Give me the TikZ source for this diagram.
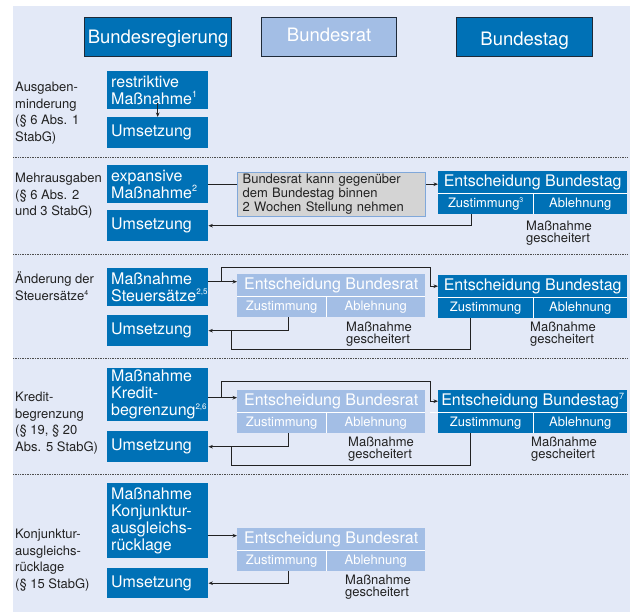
\documentclass[tikz,border=0pt]{standalone}
\usepackage{fontspec}
\setmainfont{TeX Gyre Heros}
\usetikzlibrary{arrows.meta,calc}
\definecolor{bgblue}{RGB}{227,233,247}
\definecolor{dblue}{RGB}{0,113,182}
\definecolor{lblue}{RGB}{163,190,229}
\definecolor{gfill}{RGB}{212,212,212}
\definecolor{gborder}{RGB}{128,168,218}
\definecolor{ink}{RGB}{34,34,34}
\definecolor{hborder}{RGB}{30,42,56}
\newcommand\fnote[2][9]{\raisebox{0.42em}{\fontsize{#1}{#1}\selectfont #2}}
\begin{document}
\begin{tikzpicture}[x=1pt,y=-1pt,
  hdrbox/.style={draw=hborder, line width=1.2pt, inner sep=0pt, anchor=north west, text=white, font=\fontsize{18.5}{20}\selectfont},
  mainbox/.style={fill=dblue, text=white, anchor=north west, inner xsep=4pt, inner ysep=0pt, text width=93pt, align=left, font=\fontsize{16}{17}\selectfont},
  dechdr/.style={anchor=north west, inner sep=0pt, text=white, minimum height=22pt, font=\fontsize{16}{17}\selectfont},
  deccell/.style={anchor=north west, inner sep=0pt, text=white, minimum height=21pt, font=\fontsize{13}{14}\selectfont},
  rowlabel/.style={anchor=base west, inner sep=0pt, align=left, text=ink, font=\fontsize{13}{16.5}\selectfont},
  faillabel/.style={anchor=base west, inner sep=0pt, align=left, text=ink, font=\fontsize{13}{12}\selectfont},
  conn/.style={draw=ink, line width=0.9pt},
  arr/.style={conn, -{Stealth[length=4.5pt,width=3.6pt]}},
  sep/.style={draw=white, line width=1.3pt},
  rowsep/.style={draw=ink!80, line width=0.8pt, dash pattern=on 0.8pt off 0.9pt}
]
\useasboundingbox (0,0) rectangle (633,612);
\fill[white] (0,0) rectangle (633,612);
\fill[bgblue] (13,6) rectangle (630,612);
\foreach \yy in {157,254,358,474} \draw[rowsep] (13,\yy) -- (628,\yy);

% headers
\node[hdrbox, fill=dblue, minimum width=147pt, minimum height=39pt, text height=13.5pt, text depth=0.5pt] (breg) at (84,17) {Bundesregierung};
\node[hdrbox, fill=lblue, minimum width=135pt, minimum height=39pt, text height=13.5pt, text depth=4.5pt] (brat) at (261,17) {Bundesrat};
\node[hdrbox, fill=dblue, minimum width=136pt, minimum height=39pt, text height=17.5pt, text depth=0.5pt] (btag) at (456,17) {Bundestag};

% row labels (anchored at the baseline of the last line)
\node[rowlabel] (l1) at (15,141.5) {Ausgaben-\\minderung\\(§ 6 Abs. 1\\StabG)};
\node[rowlabel] (l2) at (15,216) {Mehrausgaben\\(§ 6 Abs. 2\\und 3 StabG)};
\node[rowlabel] (l3) at (15,300.5) {Änderung der\\Steuersätze\fnote[7]{4}};
\node[rowlabel] (l4) at (15,451.5) {Kredit-\\begrenzung\\(§ 19, § 20\\Abs. 5 StabG)};
\node[rowlabel] (l5) at (15,588.5) {Konjunktur-\\ausgleichs-\\rücklage\\(§ 15 StabG)};

% row 1
\node[mainbox, minimum height=38pt] (r1m) at (107,71) {restriktive\\Maßnahme\fnote{1}};
\node[mainbox, minimum height=31pt] (r1u) at (107,117) {Umsetzung};

% row 2
\node[mainbox, minimum height=38pt] (r2m) at (107,165) {expansive\\Maßnahme\fnote{2}};
\node[mainbox, minimum height=31pt] (r2u) at (107,210) {Umsetzung};
\node[draw=gborder, line width=1.2pt, fill=gfill, anchor=north west, minimum width=188pt, minimum height=44pt, inner xsep=5pt, inner ysep=0pt, text width=178pt, align=left, text=ink, font=\fontsize{13}{14}\selectfont] (r2g) at (237,172) {Bundesrat kann gegenüber\\dem Bundestag binnen\\2 Wochen Stellung nehmen};
\node[dechdr, fill=dblue, minimum width=189pt] (r2th) at (438,171) {Entscheidung Bundestag};
\node[deccell, fill=dblue, minimum width=95pt] (r2tz) at (438,193) {Zustimmung\fnote[7]{3}};
\node[deccell, fill=dblue, minimum width=94pt] (r2ta) at (533,193) {Ablehnung};
\node[faillabel] (r2tf) at (526,243) {Maßnahme\\gescheitert};

% row 3
\node[mainbox, minimum height=38pt] (r3m) at (107,268) {Maßnahme\\Steuersätze\fnote[8]{2,5}};
\node[mainbox, minimum height=31pt] (r3u) at (107,315) {Umsetzung};
\node[dechdr, fill=lblue, minimum width=188pt] (r3rh) at (237,274) {Entscheidung Bundesrat};
\node[deccell, fill=lblue, minimum width=89pt] (r3rz) at (237,296) {Zustimmung};
\node[deccell, fill=lblue, minimum width=99pt] (r3ra) at (326,296) {Ablehnung};
\node[faillabel] (r3rf) at (346,343.5) {Maßnahme\\gescheitert};
\node[dechdr, fill=dblue, minimum width=189pt] (r3th) at (438,275) {Entscheidung Bundestag};
\node[deccell, fill=dblue, minimum width=95pt] (r3tz) at (438,297) {Zustimmung};
\node[deccell, fill=dblue, minimum width=94pt] (r3ta) at (533,297) {Ablehnung};
\node[faillabel] (r3tf) at (530,343.5) {Maßnahme\\gescheitert};

% row 4
\node[mainbox, minimum height=53pt] (r4m) at (107,368) {Maßnahme\\Kredit-\\begrenzung\fnote[8]{2,6}};
\node[mainbox, minimum height=31pt] (r4u) at (107,431) {Umsetzung};
\node[dechdr, fill=lblue, minimum width=188pt] (r4rh) at (237,390) {Entscheidung Bundesrat};
\node[deccell, fill=lblue, minimum width=89pt] (r4rz) at (237,412) {Zustimmung};
\node[deccell, fill=lblue, minimum width=99pt] (r4ra) at (326,412) {Ablehnung};
\node[faillabel] (r4rf) at (348,459) {Maßnahme\\gescheitert};
\node[dechdr, fill=dblue, minimum width=189pt] (r4th) at (438,390) {Entscheidung Bundestag\fnote{7}};
\node[deccell, fill=dblue, minimum width=95pt] (r4tz) at (438,412) {Zustimmung};
\node[deccell, fill=dblue, minimum width=94pt] (r4ta) at (533,412) {Ablehnung};
\node[faillabel] (r4tf) at (531,459) {Maßnahme\\gescheitert};

% row 5
\node[mainbox, minimum height=75pt] (r5m) at (107,483) {Maßnahme\\Konjunktur-\\ausgleichs-\\rücklage};
\node[mainbox, minimum height=30pt] (r5u) at (107,568) {Umsetzung};
\node[dechdr, fill=lblue, minimum width=188pt] (r5rh) at (237,528) {Entscheidung Bundesrat};
\node[deccell, fill=lblue, minimum width=89pt] (r5rz) at (237,550) {Zustimmung};
\node[deccell, fill=lblue, minimum width=99pt] (r5ra) at (326,550) {Ablehnung};
\node[faillabel] (r5rf) at (345,597) {Maßnahme\\gescheitert};

% white separators
\foreach \h/\z in {r2th/r2tz,r3rh/r3rz,r3th/r3tz,r4rh/r4rz,r5rh/r5rz}{
  \draw[sep] (\h.south west) -- (\h.south east);
  \draw[sep] (\z.north east) -- (\z.south east);
}
\draw[sep] ([xshift=-8pt]r4th.south west) -- (r4th.south east);
\draw[sep] (r4tz.north east) -- (r4tz.south east);

% connectors row 1
\draw[arr] ([yshift=6pt]r1m.south) -- (r1u.north);

% row 2
\draw[conn] (r2m.east) -- (r2m.east -| r2g.west);
\draw[arr] (r2m.east -| r2g.east) -- (r2m.east -| r2th.west);
\draw[arr] ([xshift=-14.5pt]r2tz.south) |- (r2u.east);

% row 3
\coordinate (r3a) at ([yshift=3.5pt]r3rh.west);
\coordinate (r3b) at (221,267);
\coordinate (r3c) at (430,267);
\coordinate (r3j) at (231,349);
\draw[arr] (r3m.east |- r3a) -- (r3a);
\draw[arr] (r3a -| r3b) -- (r3b) -- (r3c) |- (r3th.west);
\draw[arr] ([xshift=6.5pt]r3rz.south) |- (r3u.east);
\draw[conn] ([xshift=-15.5pt]r3tz.south) |- (r3j) -- (r3j |- r3u.east);

% row 4
\coordinate (r4a) at ([yshift=3.5pt]r4rh.west);
\coordinate (r4b) at (221,381);
\coordinate (r4c) at (430,381);
\coordinate (r4j) at (231,465);
\draw[arr] (r4m.east |- r4a) -- (r4a);
\draw[arr] (r4a -| r4b) -- (r4b) -- (r4c) |- (r4th.west);
\draw[arr] ([xshift=6.5pt]r4rz.south) |- (r4u.east);
\draw[conn] ([xshift=-15.5pt]r4tz.south) |- (r4j) -- (r4j |- r4u.east);

% row 5
\coordinate (r5a) at ([yshift=3.5pt]r5rh.west);
\draw[arr] (r5m.east |- r5a) -- (r5a);
\draw[arr] ([xshift=6.5pt]r5rz.south) |- (r5u.east);
\end{tikzpicture}
\end{document}
